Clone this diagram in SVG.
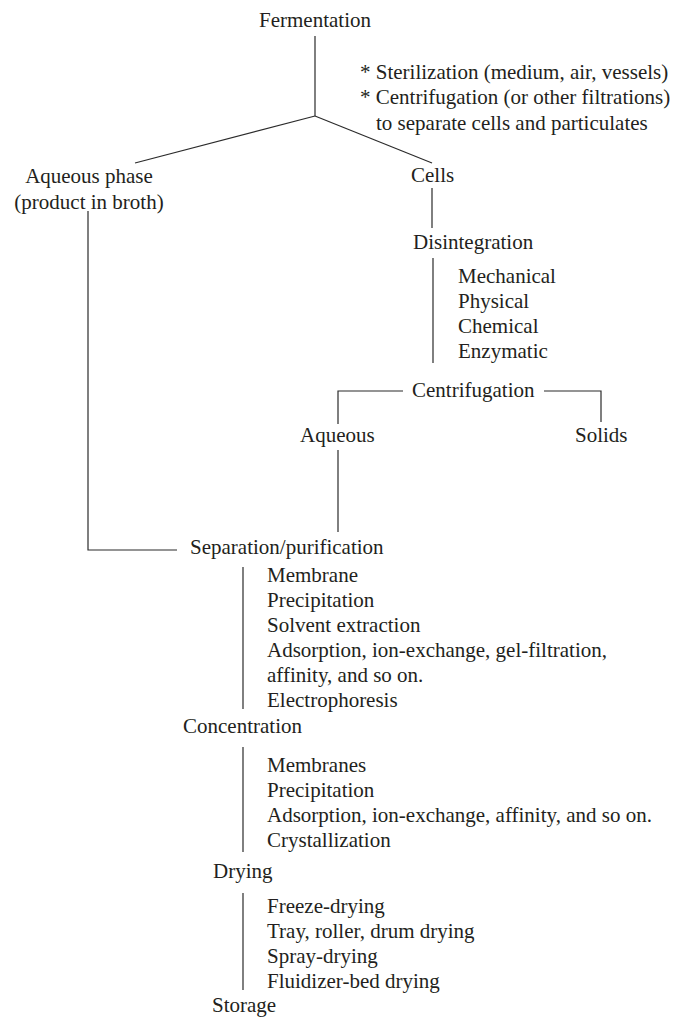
<svg xmlns="http://www.w3.org/2000/svg" width="673" height="1017" viewBox="0 0 673 1017">
  <style>
    text { font-family: "Liberation Serif", "Times New Roman", serif; font-size: 21px; fill: #231f20; }
    .mid { text-anchor: middle; }
    .link { fill: none; stroke: #2b2b2b; stroke-width: 1.2; }
  </style>
  <rect width="673" height="1017" fill="#ffffff"/>

  <!-- connectors -->
  <g id="connectors" class="link">
    <line x1="315" y1="36" x2="315" y2="116"/>
    <line x1="315" y1="116" x2="135" y2="163"/>
    <line x1="315" y1="116" x2="432" y2="163"/>
    <line x1="432" y1="188" x2="432" y2="228"/>
    <line x1="433" y1="258" x2="433" y2="363"/>
    <polyline points="403,391 338,391 338,424"/>
    <polyline points="544,391 601,391 601,422"/>
    <line x1="338" y1="450" x2="338" y2="532"/>
    <polyline points="88,211 88,550 177,550"/>
    <line x1="243" y1="567" x2="243" y2="709"/>
    <line x1="243" y1="747" x2="243" y2="852"/>
    <line x1="243" y1="893" x2="243" y2="990"/>
  </g>

  <g id="fermentation">
    <text class="mid" x="315" y="27">Fermentation</text>
  </g>
  <g id="fermentation-notes">
    <text x="360" y="79">* Sterilization (medium, air, vessels)</text>
    <text x="360" y="104">* Centrifugation (or other filtrations)</text>
    <text x="376" y="130">to separate cells and particulates</text>
  </g>
  <g id="aqueous-phase">
    <text class="mid" x="89" y="183">Aqueous phase</text>
    <text class="mid" x="89" y="209">(product in broth)</text>
  </g>
  <g id="cells">
    <text x="411" y="182">Cells</text>
  </g>
  <g id="disintegration">
    <text x="413" y="249">Disintegration</text>
  </g>
  <g id="disintegration-methods">
    <text x="458" y="283">Mechanical</text>
    <text x="458" y="308">Physical</text>
    <text x="458" y="333">Chemical</text>
    <text x="458" y="358">Enzymatic</text>
  </g>
  <g id="centrifugation">
    <text x="412" y="397">Centrifugation</text>
  </g>
  <g id="aqueous">
    <text x="300" y="442">Aqueous</text>
  </g>
  <g id="solids">
    <text x="575" y="442">Solids</text>
  </g>
  <g id="separation">
    <text x="190" y="554">Separation/purification</text>
  </g>
  <g id="separation-methods">
    <text x="267" y="582">Membrane</text>
    <text x="267" y="607">Precipitation</text>
    <text x="267" y="632">Solvent extraction</text>
    <text x="267" y="657">Adsorption, ion-exchange, gel-filtration,</text>
    <text x="267" y="682">affinity, and so on.</text>
    <text x="267" y="707">Electrophoresis</text>
  </g>
  <g id="concentration">
    <text x="183" y="733">Concentration</text>
  </g>
  <g id="concentration-methods">
    <text x="267" y="772">Membranes</text>
    <text x="267" y="797">Precipitation</text>
    <text x="267" y="822">Adsorption, ion-exchange, affinity, and so on.</text>
    <text x="267" y="847">Crystallization</text>
  </g>
  <g id="drying">
    <text x="213" y="878">Drying</text>
  </g>
  <g id="drying-methods">
    <text x="267" y="913">Freeze-drying</text>
    <text x="267" y="938">Tray, roller, drum drying</text>
    <text x="267" y="963">Spray-drying</text>
    <text x="267" y="988">Fluidizer-bed drying</text>
  </g>
  <g id="storage">
    <text x="212" y="1012">Storage</text>
  </g>
</svg>
